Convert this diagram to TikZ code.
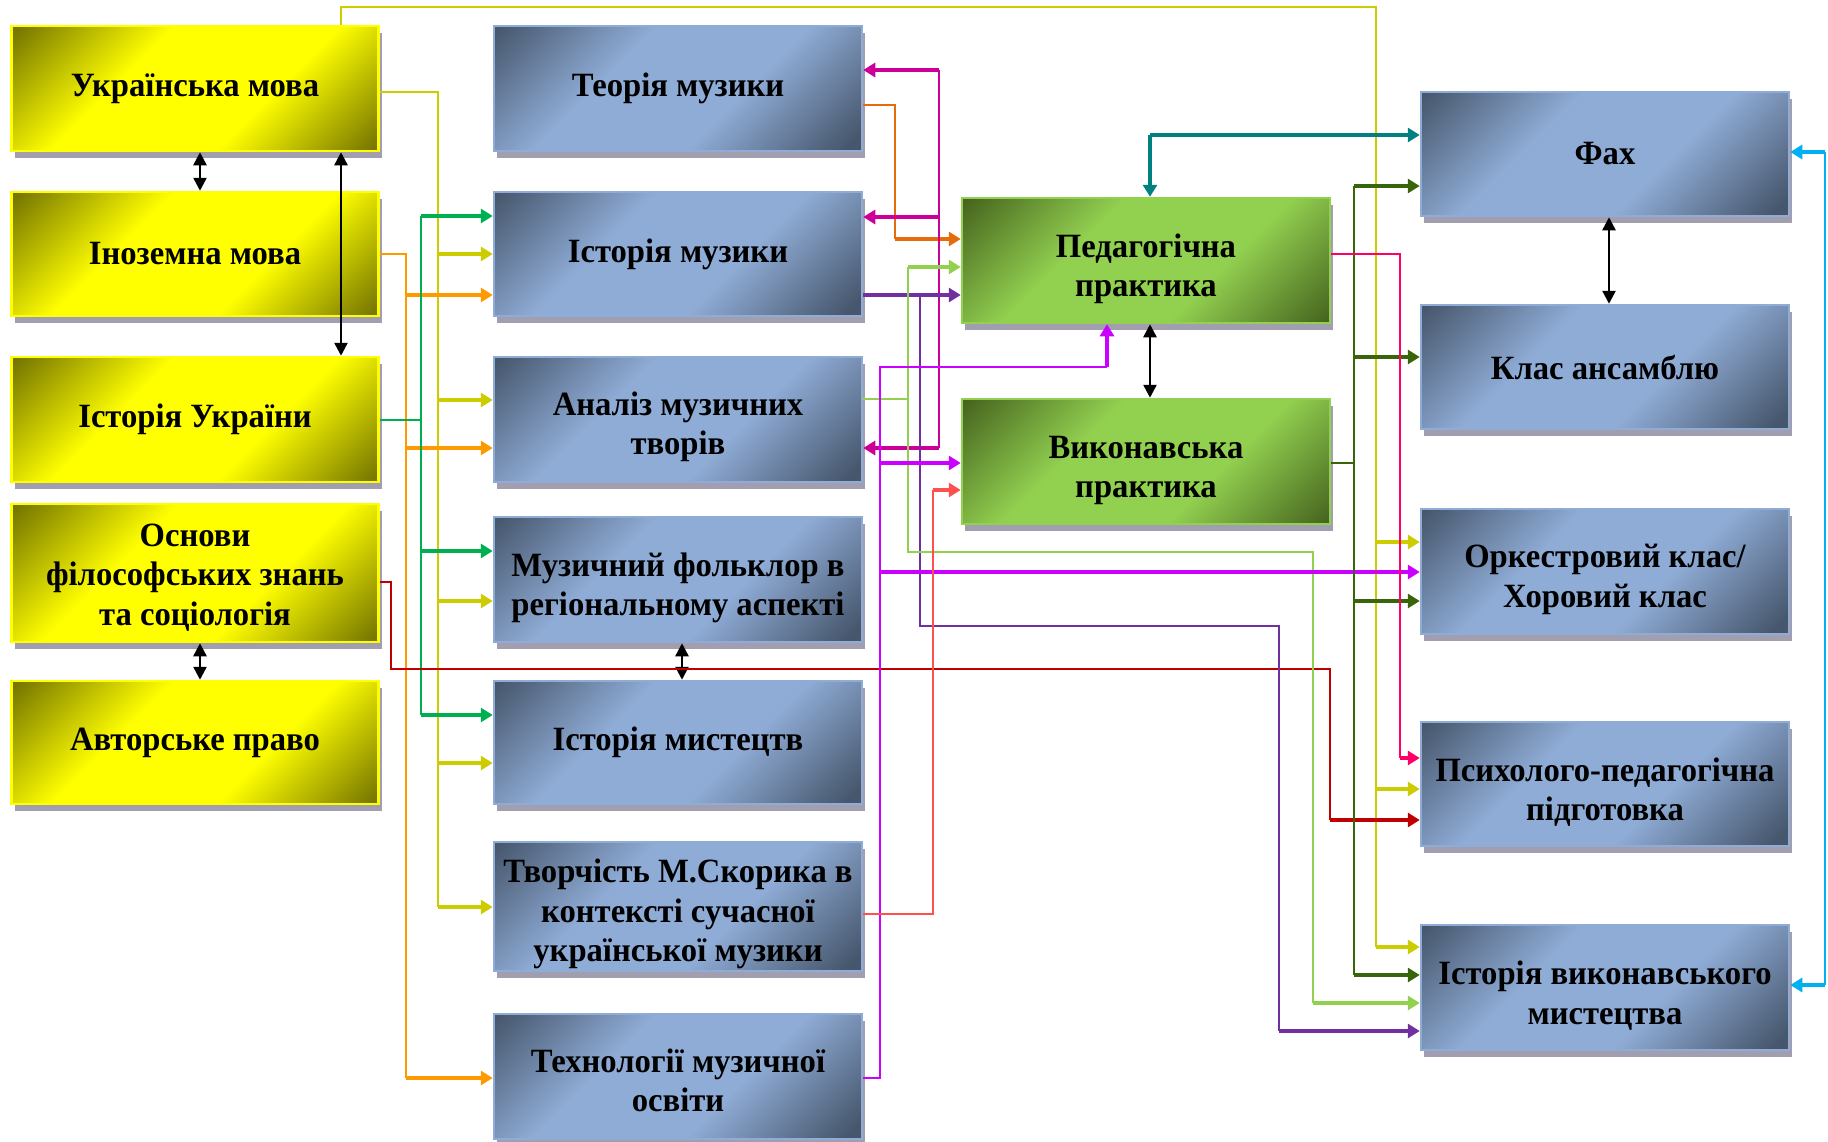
\documentclass[tikz,border=0pt]{standalone}
\usepackage{fontspec}
\setmainfont{Liberation Serif}[FakeStretch=0.96]
\usetikzlibrary{arrows.meta,shadows}

\definecolor{ydark}{RGB}{115,115,0}
\definecolor{ylight}{RGB}{255,255,0}
\definecolor{bdark}{RGB}{70,86,108}
\definecolor{blight}{RGB}{143,172,214}
\definecolor{gdark}{RGB}{70,100,30}
\definecolor{glight}{RGB}{146,208,80}
\definecolor{shgray}{RGB}{160,158,175}

\definecolor{colive}{RGB}{204,204,0}
\definecolor{corange}{RGB}{255,153,0}
\definecolor{cgreen}{RGB}{0,176,80}
\definecolor{cdred}{RGB}{192,0,0}
\definecolor{ctorange}{RGB}{228,108,10}
\definecolor{cmag}{RGB}{204,0,153}
\definecolor{cpurple}{RGB}{112,48,160}
\definecolor{clgreen}{RGB}{146,208,80}
\definecolor{cviolet}{RGB}{204,0,255}
\definecolor{ccoral}{RGB}{255,80,80}
\definecolor{cteal}{RGB}{0,128,128}
\definecolor{cdgreen}{RGB}{56,100,10}
\definecolor{cpink}{RGB}{255,0,102}
\definecolor{ccyan}{RGB}{0,176,240}

\pgfdeclareverticalshading{yshade}{100bp}{color(0bp)=(ydark); color(15bp)=(ydark); color(38bp)=(ylight); color(62bp)=(ylight); color(85bp)=(ydark); color(100bp)=(ydark)}
\pgfdeclareverticalshading{bshade}{100bp}{color(0bp)=(bdark); color(17bp)=(bdark); color(40bp)=(blight); color(62bp)=(blight); color(85bp)=(bdark); color(100bp)=(bdark)}
\pgfdeclareverticalshading{gshade}{100bp}{color(0bp)=(gdark); color(15bp)=(gdark); color(38bp)=(glight); color(62bp)=(glight); color(85bp)=(gdark); color(100bp)=(gdark)}

\newcommand\fs[1]{\rule{0pt}{#1pt}}

\tikzset{
  bx/.style={minimum width=368pt, minimum height=125pt, inner sep=0pt, align=center,
    font=\fontsize{34}{39.5}\selectfont\bfseries, shade, shading angle=45, line width=2.5pt,
    drop shadow={shadow xshift=3pt, shadow yshift=-7pt, fill=shgray, opacity=1}},
  ybox/.style={bx, shading=yshade, draw=ylight},
  bluebox/.style={bx, shading=bshade, draw=blight},
  gbox/.style={bx, shading=gshade, draw=glight},
  ln/.style={line width=2pt},
  ar/.style={line width=3.5pt, -{Triangle[length=12pt,width=14pt]}},
  bar/.style={line width=2.5pt, black, {Triangle[length=13pt,width=13pt]}-{Triangle[length=13pt,width=13pt]}}
}

\begin{document}
\begin{tikzpicture}[x=1pt,y=-1pt]
\fill[white] (0,0) rectangle (1828,1141);
\useasboundingbox (0,0) rectangle (1828,1141);

% yellow column
\node[ybox, minimum width=367pt] (um) at (195,88.5) {Українська мова};
\node[ybox, minimum width=367pt, minimum height=124pt] (im) at (195,254) {Іноземна мова};
\node[ybox, minimum width=367pt] (iu) at (195,419.5) {Історія України};
\node[ybox, minimum width=367pt, minimum height=138pt] (os) at (195,573) {\fs{31.5}Основи\\філософських знань\\та соціологія};
\node[ybox, minimum width=367pt, minimum height=123pt] (ap) at (195,742.5) {Авторське право};

% blue column 1
\node[bluebox] (tmz) at (678,88.5) {Теорія музики};
\node[bluebox, minimum height=124pt] (ih) at (678,254) {Історія музики};
\node[bluebox] (an) at (678,419.5) {\fs{38.5}Аналіз музичних\\творів};
\node[bluebox] (mf) at (678,579.5) {\fs{40.5}Музичний фольклор в\\регіональному аспекті};
\node[bluebox, minimum height=123pt] (mi) at (678,742.5) {Історія мистецтв};
\node[bluebox, minimum height=129pt] (tv) at (678,906.5) {\fs{38.5}Творчість М.Скорика в\\контексті сучасної\\української музики};
\node[bluebox] (tm) at (678,1076.5) {\fs{31.5}Технології музичної\\освіти};

% green column
\node[gbox] (pp) at (1146,260.5) {\fs{40.5}Педагогічна\\практика};
\node[gbox] (vp) at (1146,461.5) {\fs{40.5}Виконавська\\практика};

% blue column 2
\node[bluebox, minimum height=124pt] (fah) at (1605,154) {Фах};
\node[bluebox, minimum height=124pt] (ka) at (1605,367) {Клас ансамблю};
\node[bluebox] (ok) at (1605,571.5) {\fs{39.5}Оркестровий клас/\\Хоровий клас};
\node[bluebox, minimum height=124pt] (pp2) at (1605,784) {\fs{39.5}Психолого-педагогічна\\підготовка};
\node[bluebox] (ivm) at (1605,987.5) {\fs{39.5}Історія виконавського\\мистецтва};

% black double arrows
\draw[bar] (um.south -| 200,0) -- (im.north -| 200,0);
\draw[bar] (um.south -| 341,0) -- (iu.north -| 341,0);
\draw[bar] (os.south -| 200,0) -- (ap.north -| 200,0);
\draw[bar] (mf.south -| 682,0) -- (mi.north -| 682,0);
\draw[bar] (pp.south -| 1150,0) -- (vp.north -| 1150,0);
\draw[bar] (fah.south -| 1609,0) -- (ka.north -| 1609,0);

% olive (Українська мова)
\draw[ln,colive] (um.east |- 0,92) -| (438,907);
\foreach \y/\n in {254/ih,400/an,601/mf,763/mi,907/tv}
  \draw[ar,colive] (438,\y) -- (\n.west |- 0,\y);
% top yellow line
\draw[ln,colive] (um.north -| 341,0) |- (1376,7) -- (1376,947);
\foreach \y/\n in {542/ok,789/pp2,947/ivm}
  \draw[ar,colive] (1376,\y) -- (\n.west |- 0,\y);

% orange (Іноземна мова)
\draw[ln,corange] (im.east |- 0,254) -| (406,1078);
\foreach \y/\n in {295/ih,448/an,1078/tm}
  \draw[ar,corange] (406,\y) -- (\n.west |- 0,\y);

% green (Історія України)
\draw[ln,cgreen] (iu.east |- 0,420) -- (421,420);
\draw[ln,cgreen] (421,216) -- (421,715);
\foreach \y/\n in {216/ih,551/mf,715/mi}
  \draw[ar,cgreen] (421,\y) -- (\n.west |- 0,\y);

% dark red (Основи)
\draw[ln,cdred] (os.east |- 0,582) -| (391,669) -| (1330,820);
\draw[ar,cdred] (1330,820) -- (pp2.west |- 0,820);

% orange (Теорія музики)
\draw[ln,ctorange] (tmz.east |- 0,105) -| (895,239);
\draw[ar,ctorange] (895,239) -- (pp.west |- 0,239);

% magenta
\draw[ln,cmag] (939,70) -- (939,448);
\draw[ar,cmag] (939,70) -- (tmz.east |- 0,70);
\draw[ar,cmag] (939,217) -- (ih.east |- 0,217);
\draw[ar,cmag] (939,448) -- (an.east |- 0,448);

% purple (Історія музики)
\draw[ar,cpurple] (ih.east |- 0,295) -- (pp.west |- 0,295);
\draw[ln,cpurple] (920,295) |- (1279,626) -- (1279,1031);
\draw[ar,cpurple] (1279,1031) -- (ivm.west |- 0,1031);

% light green (Аналіз)
\draw[ln,clgreen] (an.east |- 0,399) -- (908,399);
\draw[ln,clgreen] (908,267) -- (908,552) -| (1313,1003);
\draw[ar,clgreen] (908,267) -- (pp.west |- 0,267);
\draw[ar,clgreen] (1313,1003) -- (ivm.west |- 0,1003);

% violet (Технології)
\draw[ln,cviolet] (tm.east |- 0,1078) -| (880,367) -- (1107,367);
\draw[ar,cviolet] (1107,367) -- (pp.south -| 1107,0);
\draw[ar,cviolet] (880,463) -- (vp.west |- 0,463);
\draw[ar,cviolet] (880,572) -- (ok.west |- 0,572);

% coral (Творчість)
\draw[ln,ccoral] (tv.east |- 0,914) -| (933,490);
\draw[ar,ccoral] (933,490) -- (vp.west |- 0,490);

% dark green (Виконавська)
\draw[ln,cdgreen] (vp.east |- 0,463) -- (1354,463);
\draw[ln,cdgreen] (1354,186) -- (1354,975);
\foreach \y/\n in {186/fah,357/ka,601/ok,975/ivm}
  \draw[ar,cdgreen] (1354,\y) -- (\n.west |- 0,\y);

% pink (Педагогічна)
\draw[ln,cpink] (pp.east |- 0,254) -| (1400,758);
\draw[ar,cpink] (1400,758) -- (pp2.west |- 0,758);

% teal
\draw[ar,cteal] (1150,135) -- (fah.west |- 0,135);
\draw[ar,cteal] (1150,135) -- (pp.north -| 1150,0);

% cyan
\draw[ln,ccyan] (1825,152) -- (1825,985);
\draw[ar,ccyan] (1825,152) -- (fah.east |- 0,152);
\draw[ar,ccyan] (1825,985) -- (ivm.east |- 0,985);
\end{tikzpicture}
\end{document}
